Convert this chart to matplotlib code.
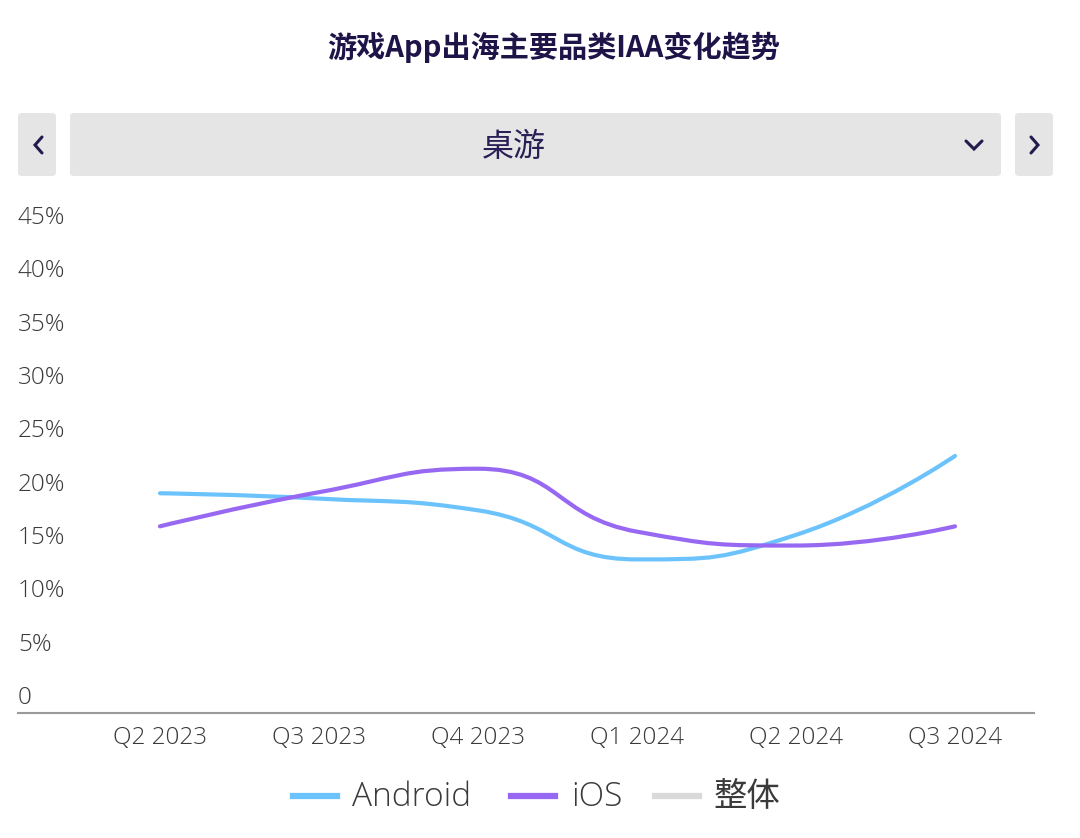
import numpy as np
import matplotlib
matplotlib.use("Agg")
import matplotlib.pyplot as plt
from matplotlib.path import Path
from matplotlib.patches import PathPatch, FancyBboxPatch
from matplotlib.lines import Line2D
from matplotlib.transforms import offset_copy

plt.rcParams['font.family'] = ['Open Sans', 'Noto Sans CJK SC', 'DejaVu Sans']

# Data
title = '游戏App出海主要品类IAA变化趋势'
category = '桌游'
quarters = ['Q2 2023', 'Q3 2023', 'Q4 2023', 'Q1 2024', 'Q2 2024', 'Q3 2024']
android = [20.6, 20.1, 19.0, 14.4, 16.7, 24.1]
ios = [17.5, 20.7, 22.9, 17.0, 15.7, 17.5]
yticks = [0, 5, 10, 15, 20, 25, 30, 35, 40, 45]
series_names = ['Android', 'iOS', '整体']
series_colors = ['#6cc3fc', '#9768f2', '#d9d9d9']

W, H = 1080, 838
fig = plt.figure(figsize=(W / 100, H / 100), dpi=100)
fig.patch.set_facecolor('white')

ax = fig.add_axes([18 / W, 1 - 713 / H, (1034 - 18) / W, (713 - 233) / H])
ax.set_xlim(-0.893, 5.497)
ax.set_ylim(0, 45)
for s in ax.spines.values():
    s.set_visible(False)
ax.axhline(0, color='#9a9a9a', lw=1.5, clip_on=False)

x = np.arange(len(quarters))
ax.set_xticks(x)
ax.set_xticklabels(quarters, fontsize=17.5, color='#3a3a3a', fontweight='light')
ax.tick_params(axis='x', length=0, pad=9)
ax.set_yticks([])

# y labels sit just above their value, left aligned
ytr = offset_copy(ax.get_yaxis_transform(), fig=fig, y=15, units='dots')
for v in yticks:
    ax.text(0, v, '0' if v == 0 else f'{v}%', transform=ytr, ha='left',
            va='center', fontsize=17.5, color='#3a3a3a', fontweight='light')


def smooth_path(xs, ys, smooth=0.5):
    # echarts-like bezier smoothing with clamped control points, in pixel space
    sx, sy = 159.0, 10.667
    px = np.asarray(xs, float) * sx
    py = np.asarray(ys, float) * sy
    n = len(px)
    verts = [(px[0], py[0])]
    codes = [Path.MOVETO]
    cpx0, cpy0 = px[0], py[0]
    for i in range(1, n):
        x0, y0 = px[i], py[i]
        if i < n - 1:
            prx, pry = px[i - 1], py[i - 1]
            nx, ny = px[i + 1], py[i + 1]
            vx, vy = nx - prx, ny - pry
            lp = np.hypot(x0 - prx, y0 - pry)
            ln = np.hypot(nx - x0, ny - y0)
            r = ln / (ln + lp)
            ncx = x0 + vx * smooth * r
            ncy = y0 + vy * smooth * r
            ncx = max(min(ncx, max(nx, x0)), min(nx, x0))
            ncy = max(min(ncy, max(ny, y0)), min(ny, y0))
            vx, vy = ncx - x0, ncy - y0
            c1x = x0 - vx * lp / ln
            c1y = y0 - vy * lp / ln
            c1x = max(min(c1x, max(prx, x0)), min(prx, x0))
            c1y = max(min(c1y, max(pry, y0)), min(pry, y0))
            vx, vy = x0 - c1x, y0 - c1y
            ncx = x0 + vx * ln / lp
            ncy = y0 + vy * ln / lp
        else:
            c1x, c1y = x0, y0
            ncx, ncy = x0, y0
        verts += [(cpx0, cpy0), (c1x, c1y), (x0, y0)]
        codes += [Path.CURVE4] * 3
        cpx0, cpy0 = ncx, ncy
    verts = np.array(verts) / np.array([sx, sy])
    return Path(verts, codes)


for ys, c in [(android, series_colors[0]), (ios, series_colors[1])]:
    p = PathPatch(smooth_path(x, ys), facecolor='none', edgecolor=c, lw=3,
                  capstyle='round', joinstyle='round')
    ax.add_patch(p)

# title
fig.text(554 / W, 1 - 47 / H, title, ha='center', va='center', fontsize=21,
         fontweight='black', color='#1e1448',
         family=['Noto Sans CJK SC', 'DejaVu Sans'])

# selector bar
def box(x0, y0, x1, y1):
    fig.patches.append(FancyBboxPatch((x0 / W, 1 - y1 / H), (x1 - x0) / W, (y1 - y0) / H,
                                      boxstyle='round,pad=0,rounding_size=0.004',
                                      transform=fig.transFigure, facecolor='#e5e5e5',
                                      edgecolor='none'))

box(18, 113, 56, 176)
box(70, 113, 1001, 176)
box(1015, 113, 1053, 176)
fig.text(514 / W, 1 - 147 / H, category, ha='center', va='center', fontsize=23,
         color='#2a1f55', family=['Noto Sans CJK SC', 'DejaVu Sans'])


def chevron(pts):
    xs = [p[0] / W for p in pts]
    ys = [1 - p[1] / H for p in pts]
    fig.lines.append(Line2D(xs, ys, transform=fig.transFigure, color='#241a4e',
                            lw=2.2, solid_capstyle='round', solid_joinstyle='miter'))


chevron([(42, 137), (35, 145), (42, 153)])
chevron([(1031, 137), (1038, 145), (1031, 153)])
chevron([(966, 141), (974, 149), (982, 141)])

# legend
leg_items = [(293, 352), (511, 571), (655, 714)]
for (hx, tx), name, c in zip(leg_items, series_names, series_colors):
    fig.lines.append(Line2D([hx / W, (hx + 44) / W], [1 - 796 / H] * 2,
                            transform=fig.transFigure, color=c, lw=4.5))
    fig.text(tx / W, 1 - 797 / H, name, ha='left', va='center', fontsize=24,
             color='#3a3a3a', fontweight='light')

fig.savefig('out.png', dpi=100)
